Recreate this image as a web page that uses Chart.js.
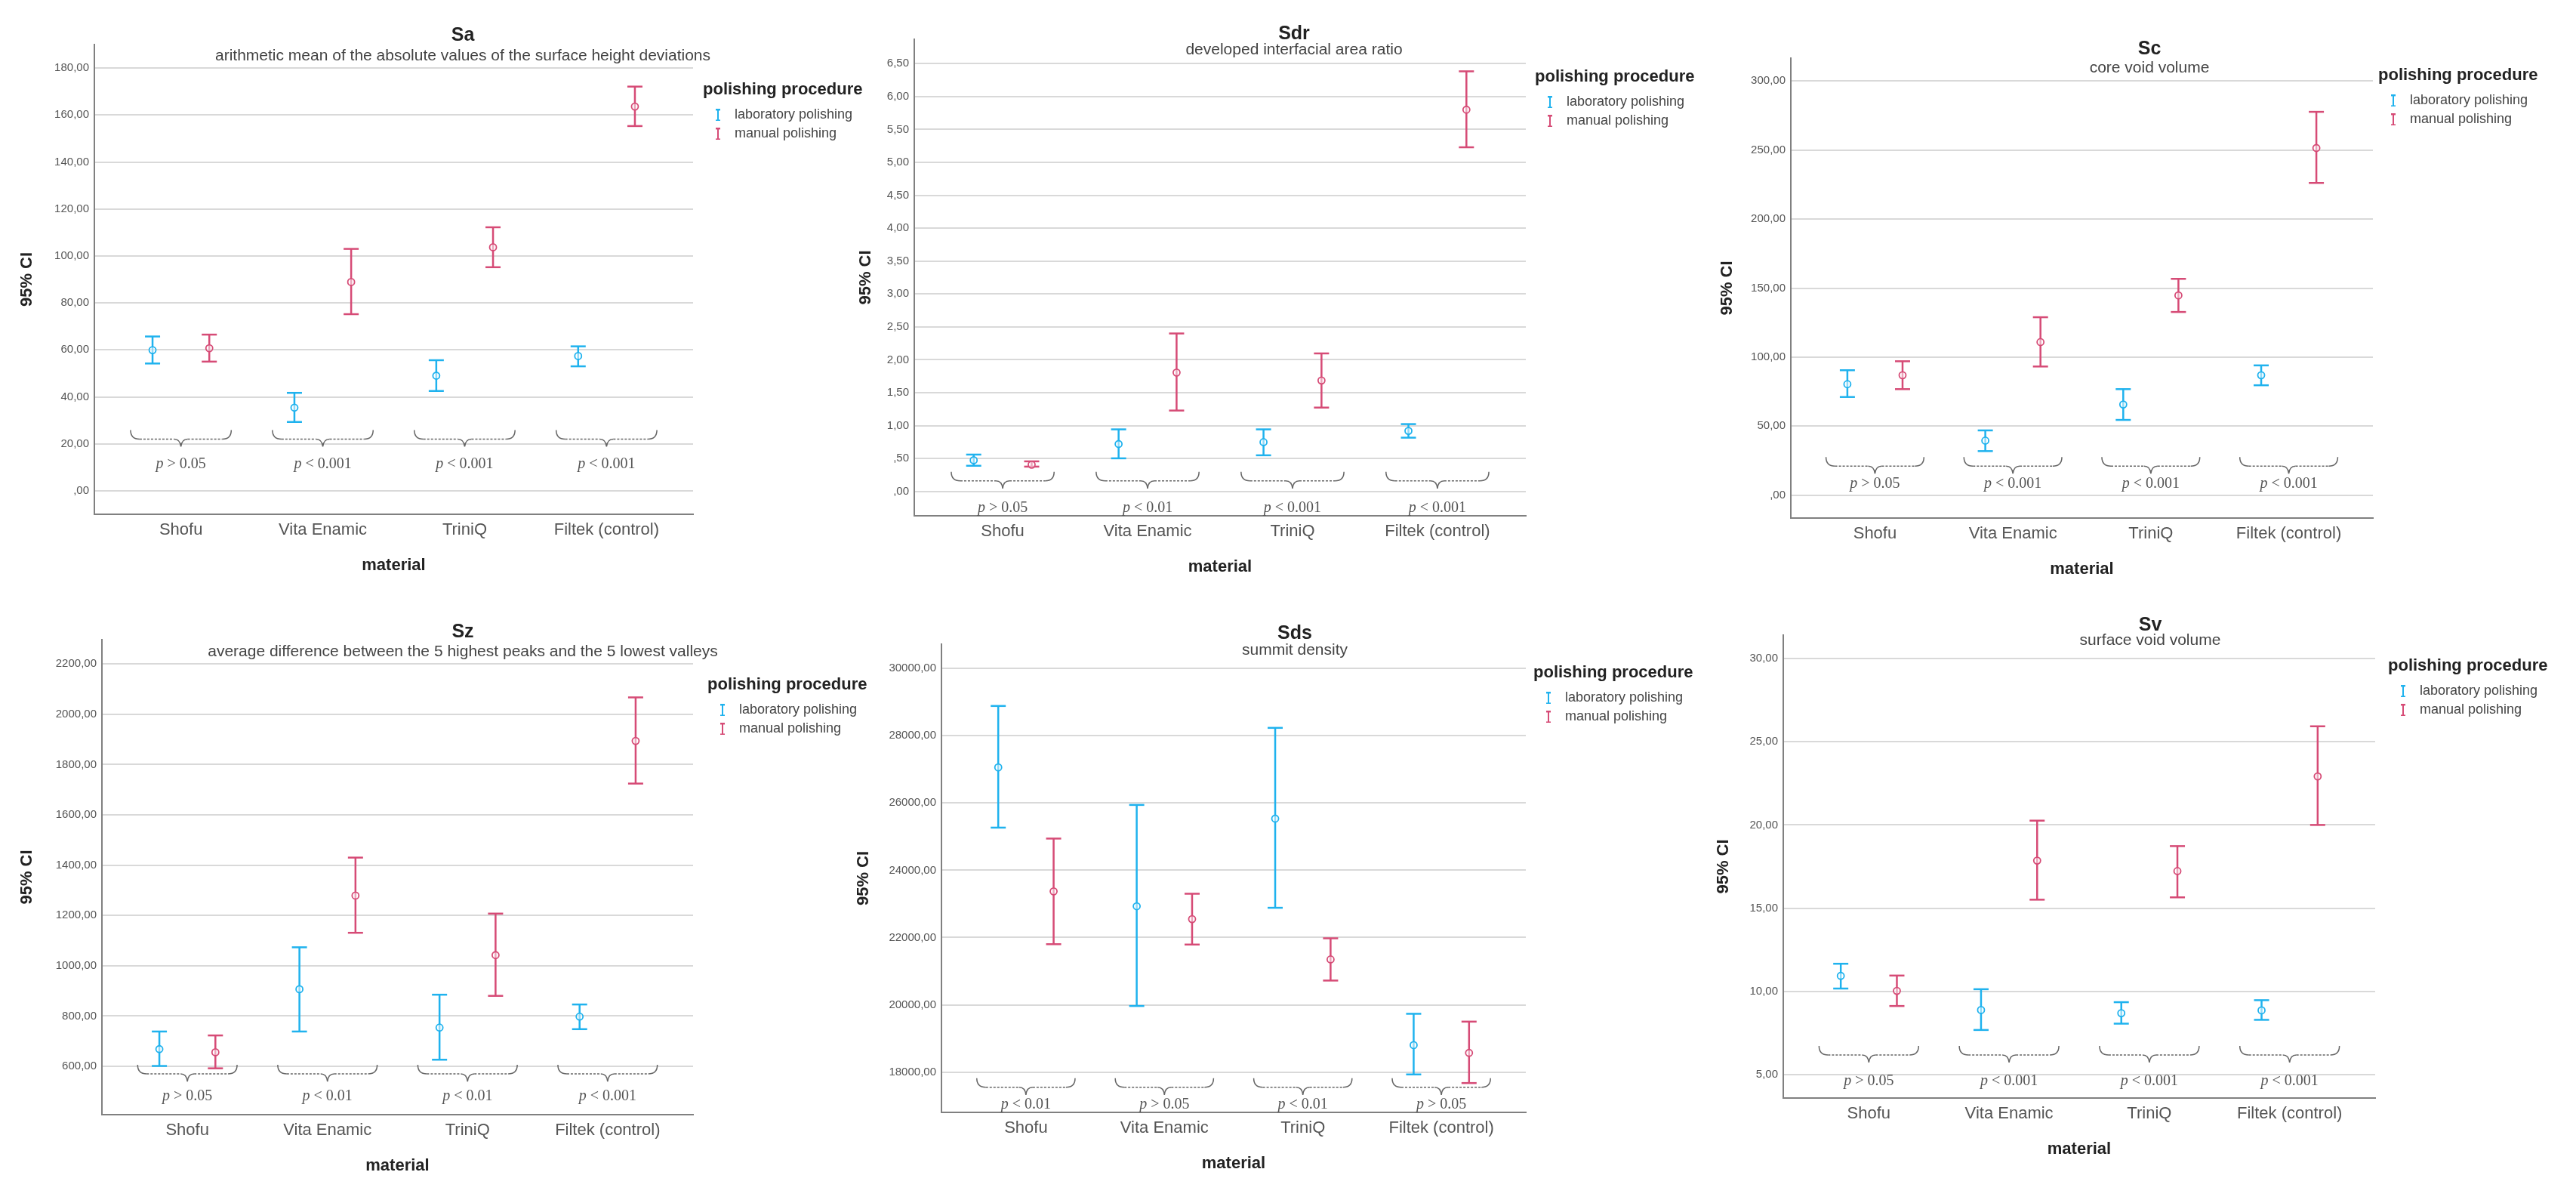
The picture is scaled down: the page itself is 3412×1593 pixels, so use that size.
<!DOCTYPE html>
<html>
<head>
<meta charset="utf-8">
<script src="https://cdn.jsdelivr.net/npm/chart.js@4/dist/chart.umd.min.js"></script>
<style>
    html, body { margin: 0; padding: 0; background: #fff; }
    body { position: relative; width: 3412px; height: 1593px; overflow: hidden; }
    .panel { position: absolute; }
</style>
</head>
<body>
<script>
// categories and groups
const materials = ["Shofu", "Vita Enamic", "TriniQ", "Filtek (control)"];
const procedures = ["laboratory polishing", "manual polishing"];

// Sa
const saLabMean = [59.9, 35.4, 49.0, 57.4];
const saLabLow = [54.2, 29.3, 42.5, 53.0];
const saLabHigh = [65.7, 41.7, 55.6, 61.5];
const saManMean = [60.7, 88.9, 103.7, 163.6];
const saManLow = [55.0, 75.2, 95.2, 155.3];
const saManHigh = [66.5, 103.0, 112.2, 172.1];
const saP = ["> 0.05", "< 0.001", "< 0.001", "< 0.001"];
const saTicks = [0, 20, 40, 60, 80, 100, 120, 140, 160, 180];

// Sdr
const sdrLabMean = [0.474, 0.72, 0.749, 0.92];
const sdrLabLow = [0.39, 0.503, 0.549, 0.817];
const sdrLabHigh = [0.56, 0.943, 0.943, 1.023];
const sdrManMean = [0.406, 1.806, 1.686, 5.80];
const sdrManLow = [0.377, 1.229, 1.274, 5.229];
const sdrManHigh = [0.457, 2.40, 2.097, 6.383];
const sdrP = ["> 0.05", "< 0.01", "< 0.001", "< 0.001"];
const sdrTicks = [0, 0.5, 1, 1.5, 2, 2.5, 3, 3.5, 4, 4.5, 5, 5.5, 6, 6.5];

// Sc
const scLabMean = [80.4, 39.5, 65.7, 86.9];
const scLabLow = [71.1, 31.9, 54.5, 79.6];
const scLabHigh = [90.5, 46.9, 76.8, 94.0];
const scManMean = [86.9, 110.9, 144.7, 251.5];
const scManLow = [76.8, 93.2, 132.7, 226.2];
const scManHigh = [97.0, 128.9, 156.7, 277.7];
const scP = ["> 0.05", "< 0.001", "< 0.001", "< 0.001"];
const scTicks = [0, 50, 100, 150, 200, 250, 300];

// Sz
const szLabMean = [668.5, 906.9, 754.2, 797.8];
const szLabLow = [601.6, 738.6, 626.5, 748.0];
const szLabHigh = [738.6, 1073.5, 885.0, 846.1];
const szManMean = [656.1, 1279.1, 1042.4, 1894.4];
const szManLow = [592.2, 1131.2, 880.4, 1724.6];
const szManHigh = [723.0, 1430.2, 1207.5, 2067.3];
const szP = ["> 0.05", "< 0.01", "< 0.01", "< 0.001"];
const szTicks = [600, 800, 1000, 1200, 1400, 1600, 1800, 2000, 2200];

// Sds
const sdsLabMean = [27058, 22930, 25535, 18802];
const sdsLabLow = [25267, 19965, 22884, 17930];
const sdsLabHigh = [28884, 25942, 28233, 19733];
const sdsManMean = [23372, 22547, 21349, 18570];
const sdsManLow = [21802, 21791, 20721, 17674];
const sdsManHigh = [24942, 23302, 21977, 19500];
const sdsP = ["< 0.01", "> 0.05", "< 0.01", "> 0.05"];
const sdsTicks = [18000, 20000, 22000, 24000, 26000, 28000, 30000];

// Sv
const svLabMean = [10.93, 8.88, 8.69, 8.86];
const svLabLow = [10.17, 7.68, 8.06, 8.29];
const svLabHigh = [11.66, 10.13, 9.35, 9.47];
const svManMean = [10.03, 17.86, 17.23, 22.92];
const svManLow = [9.12, 15.51, 15.65, 20.0];
const svManHigh = [10.95, 20.26, 18.73, 25.93];
const svP = ["> 0.05", "< 0.001", "< 0.001", "< 0.001"];
const svTicks = [5, 10, 15, 20, 25, 30];

const FONT = "'Liberation Sans', Arial, sans-serif";
const SERIF = "'Liberation Serif', 'Times New Roman', serif";
const LAB_COLOR = "#1FB2EE";
const MAN_COLOR = "#D64B76";
const AXIS_COLOR = "#808080";
const GRID_COLOR = "#d9d9d9";
const DODGE = 0.2;

Chart.defaults.font.family = FONT;

// panels: data refs + where each one sits on the page
const panels = [
    { name: "Sa", sub: "arithmetic mean of the absolute values of the surface height deviations",
      lab: [saLabMean, saLabLow, saLabHigh], man: [saManMean, saManLow, saManHigh], p: saP, ticks: saTicks,
      yMin: -10, yMax: 190, brace: 22, pDy: 33,
      left: 21, top: 0, plotLeft: 125, plotRight: 918, plotTop: 59, plotBottom: 681,
      legendLeft: 931, legendTitleY: 119, titleX: 613, titleY: 47, subY: 74 },
    { name: "Sdr", sub: "developed interfacial area ratio",
      lab: [sdrLabMean, sdrLabLow, sdrLabHigh], man: [sdrManMean, sdrManLow, sdrManHigh], p: sdrP, ticks: sdrTicks,
      yMin: -0.37, yMax: 6.87, brace: 0.16, pDy: 36,
      left: 1132, top: 0, plotLeft: 1211, plotRight: 2021, plotTop: 52, plotBottom: 683,
      legendLeft: 2033, legendTitleY: 102, titleX: 1714, titleY: 45, subY: 66 },
    { name: "Sc", sub: "core void volume",
      lab: [scLabMean, scLabLow, scLabHigh], man: [scManMean, scManLow, scManHigh], p: scP, ticks: scTicks,
      yMin: -16.6, yMax: 316.6, brace: 21, pDy: 23,
      left: 2273, top: 0, plotLeft: 2372, plotRight: 3143, plotTop: 77, plotBottom: 686,
      legendLeft: 3150, legendTitleY: 100, titleX: 2847, titleY: 65, subY: 90 },
    { name: "Sz", sub: "average difference between the 5 highest peaks and the 5 lowest valleys",
      lab: [szLabMean, szLabLow, szLabHigh], man: [szManMean, szManLow, szManHigh], p: szP, ticks: szTicks,
      yMin: 408, yMax: 2297, brace: 570, pDy: 30,
      left: 21, top: 780, plotLeft: 135, plotRight: 918, plotTop: 847, plotBottom: 1476,
      legendLeft: 937, legendTitleY: 907, titleX: 613, titleY: 837, subY: 863 },
    { name: "Sds", sub: "summit density",
      lab: [sdsLabMean, sdsLabLow, sdsLabHigh], man: [sdsManMean, sdsManLow, sdsManHigh], p: sdsP, ticks: sdsTicks,
      yMin: 16802, yMax: 30721, brace: 17547, pDy: 23,
      left: 1129, top: 780, plotLeft: 1247, plotRight: 2021, plotTop: 853, plotBottom: 1473,
      legendLeft: 2031, legendTitleY: 891, titleX: 1715, titleY: 839, subY: 861 },
    { name: "Sv", sub: "surface void volume",
      lab: [svLabMean, svLabLow, svLabHigh], man: [svManMean, svManLow, svManHigh], p: svP, ticks: svTicks,
      yMin: 3.59, yMax: 31.41, brace: 6.18, pDy: 35,
      left: 2268, top: 780, plotLeft: 2362, plotRight: 3146, plotTop: 841, plotBottom: 1454,
      legendLeft: 3163, legendTitleY: 882, titleX: 2848, titleY: 828, subY: 848 }
];

const X_AXIS_H = 95;
const LEGEND_W = 240;

// SPSS style numbers: "180,00", ",50"
const fmt = v => {
    let s = Number(v).toFixed(2).replace(".", ",");
    if (s.startsWith("0,")) s = s.slice(1);
    return s;
};

// little I-beam used as legend symbol
const iBeam = color => {
    const c = document.createElement("canvas");
    c.width = 8;
    c.height = 16;
    const g = c.getContext("2d");
    g.strokeStyle = color;
    g.lineWidth = 2;
    g.beginPath();
    g.moveTo(1, 1); g.lineTo(7, 1);
    g.moveTo(4, 1); g.lineTo(4, 15);
    g.moveTo(1, 15); g.lineTo(7, 15);
    g.stroke();
    return c;
};

// legend box is clipped to its own width, so give it a fixed one
// (the title is wider than the items)
const fixedLegend = {
    id: "fixedLegend",
    beforeLayout(chart) {
        const lg = chart.legend;
        if (lg && !lg._fixedWidth) {
            const fit = lg.fit.bind(lg);
            lg.fit = function () {
                fit();
                this.width = LEGEND_W;
            };
            lg._fixedWidth = true;
        }
    }
};

// title + subtitle above each plot
const panelTitles = {
    id: "panelTitles",
    afterDraw(chart, args, opts) {
        const ctx = chart.ctx;
        ctx.save();
        ctx.textAlign = "center";
        ctx.textBaseline = "middle";
        ctx.fillStyle = "#222";
        ctx.font = `bold 25px ${FONT}`;
        ctx.fillText(opts.title, opts.x, opts.y);
        ctx.fillStyle = "#444";
        ctx.font = `21px ${FONT}`;
        ctx.fillText(opts.subtitle, opts.x, opts.subY);
        ctx.restore();
    }
};

// curly braces + p values under each material
const pBraces = {
    id: "pBraces",
    afterDatasetsDraw(chart, args, opts) {
        const { ctx, scales: { x, y } } = chart;
        const yy = y.getPixelForValue(opts.level);
        const unit = x.getPixelForValue(2) - x.getPixelForValue(1);
        const half = unit * 0.355;
        ctx.save();
        ctx.strokeStyle = "#666";
        ctx.lineWidth = 1.5;
        opts.labels.forEach((txt, i) => {
            const cx = x.getPixelForValue(i + 1);
            const xl = cx - half;
            const xr = cx + half;
            // solid curls
            ctx.setLineDash([]);
            ctx.beginPath();
            ctx.moveTo(xl, yy - 12);
            ctx.quadraticCurveTo(xl, yy, xl + 12, yy);
            ctx.moveTo(xr, yy - 12);
            ctx.quadraticCurveTo(xr, yy, xr - 12, yy);
            ctx.moveTo(cx - 9, yy);
            ctx.quadraticCurveTo(cx - 1, yy, cx, yy + 10);
            ctx.quadraticCurveTo(cx + 1, yy, cx + 9, yy);
            ctx.stroke();
            // dotted runs
            ctx.setLineDash([3, 2]);
            ctx.beginPath();
            ctx.moveTo(xl + 12, yy);
            ctx.lineTo(cx - 9, yy);
            ctx.moveTo(cx + 9, yy);
            ctx.lineTo(xr - 12, yy);
            ctx.stroke();

            // "p" in italics, rest upright
            const ty = yy + opts.dy;
            ctx.fillStyle = "#555";
            ctx.textBaseline = "middle";
            ctx.textAlign = "left";
            ctx.font = `italic 20px ${SERIF}`;
            const wp = ctx.measureText("p").width;
            ctx.font = `20px ${SERIF}`;
            const rest = " " + txt;
            const wr = ctx.measureText(rest).width;
            const x0 = cx - (wp + wr) / 2;
            ctx.font = `italic 20px ${SERIF}`;
            ctx.fillText("p", x0, ty);
            ctx.font = `20px ${SERIF}`;
            ctx.fillText(rest, x0 + wp, ty);
        });
        ctx.restore();
    }
};

const errorSets = (vals, color, offset, label) => {
    const [mean, low, high] = vals;
    const xs = mean.map((_, i) => i + 1 + offset);
    return [
        {
            type: "scatter",
            label: label,
            data: mean.map((v, i) => ({ x: xs[i], y: v })),
            pointStyle: "circle",
            pointRadius: 4.5,
            borderColor: color,
            backgroundColor: "rgba(255,255,255,0.5)",
            borderWidth: 1.8,
            order: 0
        },
        {
            type: "scatter",
            label: label + " caps",
            data: low.map((v, i) => ({ x: xs[i], y: v }))
                .concat(high.map((v, i) => ({ x: xs[i], y: v }))),
            pointStyle: "line",
            pointRadius: 10,
            borderColor: color,
            borderWidth: 2.5,
            order: 1
        },
        {
            type: "line",
            label: label + " bars",
            data: low.flatMap((v, i) => [
                { x: xs[i], y: v },
                { x: xs[i], y: high[i] },
                { x: xs[i], y: null }
            ]),
            borderColor: color,
            borderWidth: 2.5,
            pointRadius: 0,
            spanGaps: false,
            order: 2
        }
    ];
};

const makePanel = p => {
    const w = Math.min(p.legendLeft + LEGEND_W, 3412) - p.left;
    const h = p.plotBottom + X_AXIS_H - p.top;
    const div = document.createElement("div");
    div.className = "panel";
    div.style.left = p.left + "px";
    div.style.top = p.top + "px";
    div.style.width = w + "px";
    div.style.height = h + "px";
    const canvas = document.createElement("canvas");
    div.appendChild(canvas);
    document.body.appendChild(div);

    const icons = [iBeam(LAB_COLOR), iBeam(MAN_COLOR)];
    const colors = [LAB_COLOR, MAN_COLOR];
    // legend box may be cut by the page edge, keep plot right where it is
    const padRight = p.legendLeft + LEGEND_W - p.left - w;

    new Chart(canvas, {
        type: "scatter",
        data: {
            datasets: [
                ...errorSets(p.lab, LAB_COLOR, -DODGE, procedures[0]),
                ...errorSets(p.man, MAN_COLOR, DODGE, procedures[1])
            ]
        },
        options: {
            responsive: true,
            maintainAspectRatio: false,
            animation: false,
            events: [],
            layout: { padding: { top: p.plotTop - p.top, right: 0, bottom: 0, left: 0 } },
            scales: {
                x: {
                    type: "linear",
                    min: 0.39,
                    max: 4.61,
                    afterBuildTicks: s => { s.ticks = materials.map((_, i) => ({ value: i + 1 })); },
                    afterFit: s => { s.height = X_AXIS_H; },
                    grid: { display: false, drawTicks: false },
                    border: { display: true, color: AXIS_COLOR, width: 2 },
                    ticks: {
                        padding: 8,
                        autoSkip: false,
                        maxRotation: 0,
                        color: "#555",
                        font: { size: 22 },
                        callback: v => materials[Math.round(v) - 1] || ""
                    },
                    title: {
                        display: true,
                        text: "material",
                        color: "#222",
                        font: { size: 22, weight: "bold" },
                        padding: { top: 0, bottom: 14 }
                    }
                },
                y: {
                    min: p.yMin,
                    max: p.yMax,
                    afterBuildTicks: s => { s.ticks = p.ticks.map(v => ({ value: v })); },
                    afterFit: s => { s.width = p.plotLeft - p.left; },
                    grid: { color: GRID_COLOR, lineWidth: 2, drawTicks: false },
                    border: { color: AXIS_COLOR, width: 2 },
                    ticks: { padding: 7, color: "#555", font: { size: 15 }, callback: fmt },
                    title: {
                        display: true,
                        text: "95% CI",
                        color: "#222",
                        font: { size: 22, weight: "bold" },
                        padding: { top: 2, bottom: 0 }
                    }
                },
                // spacer between plot and legend
                gap: {
                    type: "linear",
                    position: "right",
                    afterFit: s => { s.width = p.legendLeft - p.plotRight - padRight; },
                    grid: { display: false, drawTicks: false },
                    border: { display: false },
                    ticks: { display: false }
                }
            },
            plugins: {
                tooltip: { enabled: false },
                legend: {
                    position: "right",
                    align: "start",
                    title: {
                        display: true,
                        text: "polishing procedure",
                        position: "start",
                        color: "#222",
                        font: { size: 22, weight: "bold" },
                        padding: { top: p.legendTitleY - p.plotTop - 11, bottom: 2 }
                    },
                    labels: {
                        usePointStyle: true,
                        pointStyleWidth: 26,
                        padding: 7,
                        color: "#444",
                        font: { size: 18 },
                        generateLabels: () => procedures.map((t, i) => ({
                            text: t,
                            pointStyle: icons[i],
                            fillStyle: colors[i],
                            strokeStyle: colors[i],
                            fontColor: "#444",
                            lineWidth: 0,
                            hidden: false,
                            datasetIndex: i * 3
                        }))
                    }
                },
                panelTitles: {
                    title: p.name,
                    subtitle: p.sub,
                    x: p.titleX - p.left,
                    y: p.titleY - p.top,
                    subY: p.subY - p.top
                },
                pBraces: { labels: p.p, level: p.brace, dy: p.pDy }
            }
        },
        plugins: [fixedLegend, panelTitles, pBraces]
    });
};

panels.forEach(makePanel);
</script>
</body>
</html>
